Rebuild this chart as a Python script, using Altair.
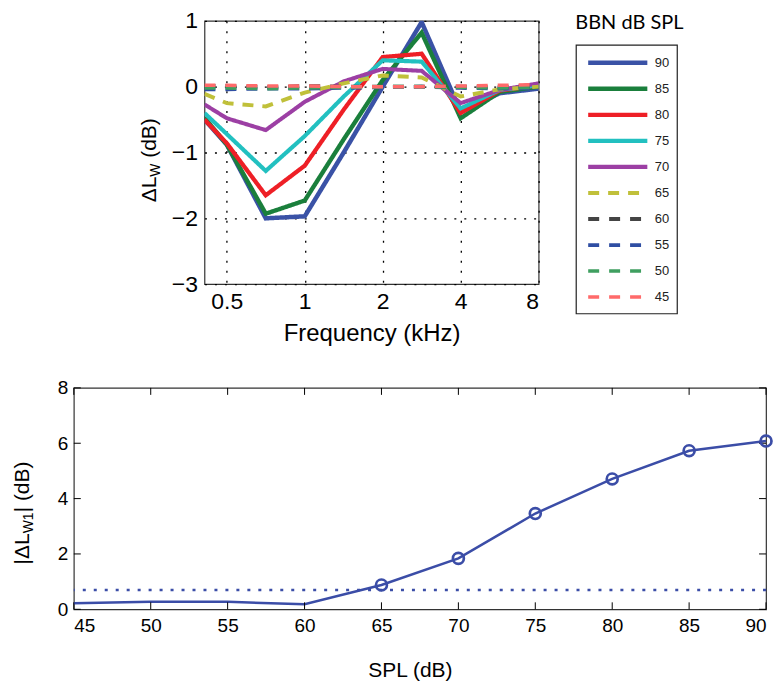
import altair as alt
import pandas as pd

FONT = "Liberation Sans"

# ---------------- top panel data ----------------
freq_khz = [0.41, 0.5, 0.707, 1.0, 1.414, 2.0, 2.828, 4.0, 5.657, 8.0]
dlw_90 = [-0.50, -0.88, -2.00, -1.97, -1.00, 0.00, 0.98, -0.38, -0.10, -0.03]
dlw_85 = [-0.47, -0.88, -1.93, -1.73, -0.80, 0.10, 0.82, -0.48, -0.08, 0.00]
dlw_80 = [-0.50, -0.86, -1.65, -1.20, -0.35, 0.45, 0.50, -0.40, -0.06, 0.02]
dlw_75 = [-0.40, -0.72, -1.28, -0.75, -0.15, 0.40, 0.38, -0.33, -0.05, 0.02]
dlw_70 = [-0.27, -0.48, -0.66, -0.23, 0.08, 0.27, 0.24, -0.25, -0.05, 0.05]
dlw_65 = [-0.11, -0.25, -0.30, -0.09, 0.05, 0.17, 0.14, -0.15, -0.04, 0.00]
dlw_60 = [0.01, 0.01, -0.01, 0.01, 0.00, 0.00, 0.00, 0.00, -0.01, 0.01]
dlw_55 = [-0.04, -0.04, -0.03, -0.03, -0.02, -0.01, 0.00, -0.02, -0.03, -0.02]
dlw_50 = [-0.02, -0.02, -0.03, -0.02, -0.01, 0.00, 0.00, -0.01, -0.02, -0.01]
dlw_45 = [0.02, 0.02, 0.01, 0.01, 0.00, 0.00, 0.00, 0.01, 0.02, 0.03]

levels = ["90", "85", "80", "75", "70", "65", "60", "55", "50", "45"]
series = [dlw_90, dlw_85, dlw_80, dlw_75, dlw_70, dlw_65, dlw_60, dlw_55, dlw_50, dlw_45]
level_colors = ["#3a52a6", "#1a7f3c", "#ee1f26", "#22c0c0", "#9c3fa4",
                "#c0c03a", "#444444", "#2f4ea3", "#3f9f60", "#ff6a6a"]
level_dashes = [[1, 0], [1, 0], [1, 0], [1, 0], [1, 0],
                [11, 9], [11, 10], [11, 10], [11, 10], [11, 10]]
level_widths = [4.5, 3.5, 3.4, 3.0, 2.6, 3.0, 2.0, 1.8, 1.5, 1.5]

x_ticks = [0.5, 1, 2, 4, 8]
y_ticks_top = [-3, -2, -1, 0, 1]

# ---------------- bottom panel data ----------------
spl_db = [45, 50, 55, 60, 65, 70, 75, 80, 85, 90]
dlw1_abs = [0.22, 0.27, 0.27, 0.18, 0.88, 1.84, 3.46, 4.71, 5.73, 6.08]
marker_min_spl = 65
threshold = [0.7]
spl_ticks = [45, 50, 55, 60, 65, 70, 75, 80, 85, 90]
y_ticks_bot = [0, 2, 4, 6, 8]
BLUE = "#3b4da7"

rows = []
for lev, vals in zip(levels, series):
    for f, v in zip(freq_khz, vals):
        rows.append({"freq": f, "val": v, "level": lev})
top_df = pd.DataFrame(rows)
legend_df = pd.DataFrame({"level": levels})
bot_df = pd.DataFrame({"spl": spl_db, "dl": dlw1_abs})
thr_df = pd.DataFrame({"dl": threshold})
xtick_df = pd.DataFrame({"spl": spl_ticks})
ytick_df = pd.DataFrame({"dl": y_ticks_bot})
one = pd.DataFrame({"k": [0]})


def anchor(x, y):
    return alt.Chart(one).mark_text(text=".", fontSize=1, color="white",
                                    align="left", baseline="top").encode(
        x=alt.value(x), y=alt.value(y))


def piece(txt, x, y, size):
    return alt.Chart(one).mark_text(text=txt, font=FONT, fontSize=size, angle=270,
                                    align="left", baseline="alphabetic",
                                    color="black").encode(
        x=alt.value(x), y=alt.value(y))


color_enc = alt.Color("level:O", sort=levels, legend=None,
                      scale=alt.Scale(domain=levels, range=level_colors))
dash_enc = alt.StrokeDash("level:O", sort=levels, legend=None,
                          scale=alt.Scale(domain=levels, range=level_dashes))
width_enc = alt.StrokeWidth("level:O", sort=levels, legend=None,
                            scale=alt.Scale(domain=levels, range=level_widths))

lines = alt.Chart(top_df).mark_line(clip=True).encode(
    x=alt.X("freq:Q",
            scale=alt.Scale(type="log", domain=[0.41, 8], nice=False),
            axis=alt.Axis(values=x_ticks, format="~g", title="Frequency (kHz)",
                          grid=True, gridDash=[2, 8], gridColor="black", gridWidth=1.3,
                          ticks=False, tickSize=0, domain=False,
                          labelFont=FONT, labelFontSize=23, labelPadding=6,
                          titleFont=FONT, titleFontSize=24, titlePadding=9)),
    y=alt.Y("val:Q",
            scale=alt.Scale(domain=[-3, 1], nice=False, zero=False),
            axis=alt.Axis(values=y_ticks_top, format="d", title=None,
                          grid=True, gridDash=[2, 8], gridColor="black", gridWidth=1.3,
                          ticks=False, tickSize=0, domain=False,
                          labelFont=FONT, labelFontSize=23, labelPadding=7)),
    color=color_enc, strokeDash=dash_enc, strokeWidth=width_enc,
)

# legend drawn from the same colour / dash / width scales
leg_y = alt.Y("level:O", sort=levels, axis=None,
              scale=alt.Scale(type="point", domain=levels, range=[42, 277], padding=0))
legend_box = alt.Chart(one).mark_rect(fill="white", stroke="#222222",
                                      strokeWidth=1.2).encode(
    x=alt.value(372.7), x2=alt.value(474), y=alt.value(24.3), y2=alt.value(293.7))
legend_lines = alt.Chart(legend_df).mark_rule().encode(
    x=alt.value(384.7), x2=alt.value(444), y=leg_y,
    color=color_enc, strokeDash=dash_enc, strokeWidth=width_enc)
legend_labels = alt.Chart(legend_df).mark_text(
    font=FONT, fontSize=13, align="left", baseline="middle", color="#222222"
).encode(x=alt.value(451.5), y=leg_y, text="level:N")
legend_title = alt.Chart(one).mark_text(text="BBN dB SPL", font="Lato", fontSize=20,
                                        align="center", baseline="alphabetic",
                                        color="black").encode(
    x=alt.value(426), y=alt.value(7.7))

top = alt.layer(
    anchor(-202, -17),
    anchor(0, 337),
    lines,
    legend_box,
    legend_lines,
    legend_labels,
    legend_title,
    piece("ΔL", -49, 182, 21),
    piece("W", -45, 156.3, 14),
    piece("(dB)", -49, 137.3, 21),
).resolve_scale(y="independent").properties(width=335, height=264)

spacer = alt.Chart(one).mark_point(opacity=0).encode(
    x=alt.value(0), y=alt.value(0)
).properties(width=131, height=1, view=alt.ViewConfig(stroke="transparent"))

top_row = alt.hconcat(spacer, top, spacing=0, bounds="flush")

x_scale_b = alt.Scale(domain=[45, 90], nice=False, zero=False)
y_scale_b = alt.Scale(domain=[0, 8], nice=False)

x_bot = alt.X("spl:Q", scale=x_scale_b,
              axis=alt.Axis(values=spl_ticks, title="SPL (dB)", orient="bottom",
                            ticks=False, tickSize=0, domain=False, grid=False,
                            labelFont=FONT, labelFontSize=19, labelPadding=7,
                            titleFont=FONT, titleFontSize=21, titlePadding=24,
                            titleX=337))
y_bot = alt.Y("dl:Q", scale=y_scale_b,
              axis=alt.Axis(values=y_ticks_bot, title=None, orient="left",
                            ticks=False, tickSize=0, domain=False, grid=False,
                            labelFont=FONT, labelFontSize=19, labelPadding=6))

line_b = alt.Chart(bot_df).mark_line(color=BLUE, strokeWidth=2.5).encode(x=x_bot, y=y_bot)

pts_b = alt.Chart(bot_df).transform_filter(
    alt.datum.spl >= marker_min_spl
).mark_point(shape="circle", filled=False, size=120, strokeWidth=2.7, color=BLUE,
             opacity=1).encode(x="spl:Q", y="dl:Q")

thr_rule = alt.Chart(thr_df).mark_rule(color=BLUE, strokeWidth=2.5,
                                       strokeDash=[3, 8]).encode(y="dl:Q")

# inward (MATLAB-style) tick marks on all four sides
tick_style = dict(color="black", strokeWidth=1)
xt_bottom = alt.Chart(xtick_df).mark_rule(**tick_style).encode(
    x="spl:Q", y=alt.value(215), y2=alt.value(222))
xt_top = alt.Chart(xtick_df).mark_rule(**tick_style).encode(
    x="spl:Q", y=alt.value(0), y2=alt.value(7))
yt_left = alt.Chart(ytick_df).mark_rule(**tick_style).encode(
    y="dl:Q", x=alt.value(0), x2=alt.value(7))
yt_right = alt.Chart(ytick_df).mark_rule(**tick_style).encode(
    y="dl:Q", x=alt.value(687), x2=alt.value(694))

bottom = alt.layer(
    line_b,
    anchor(-71, -28),
    thr_rule,
    xt_bottom, xt_top, yt_left, yt_right,
    pts_b,
    piece("|ΔL", -45, 177, 21),
    piece("W1", -41, 145.8, 14),
    piece("| (dB)", -45, 124.8, 21),
).properties(width=694, height=222)

chart = alt.vconcat(top_row, bottom, spacing=0).properties(
    padding={"left": 2, "top": 2, "right": 0, "bottom": 0}
).configure_view(
    stroke="#333333", strokeWidth=1.2
).configure_axis(
    labelColor="black", titleColor="black", tickColor="black", tickWidth=1,
    titleFontWeight="normal"
)

chart.save("out.html", embed_options={"renderer": "svg", "actions": False})
